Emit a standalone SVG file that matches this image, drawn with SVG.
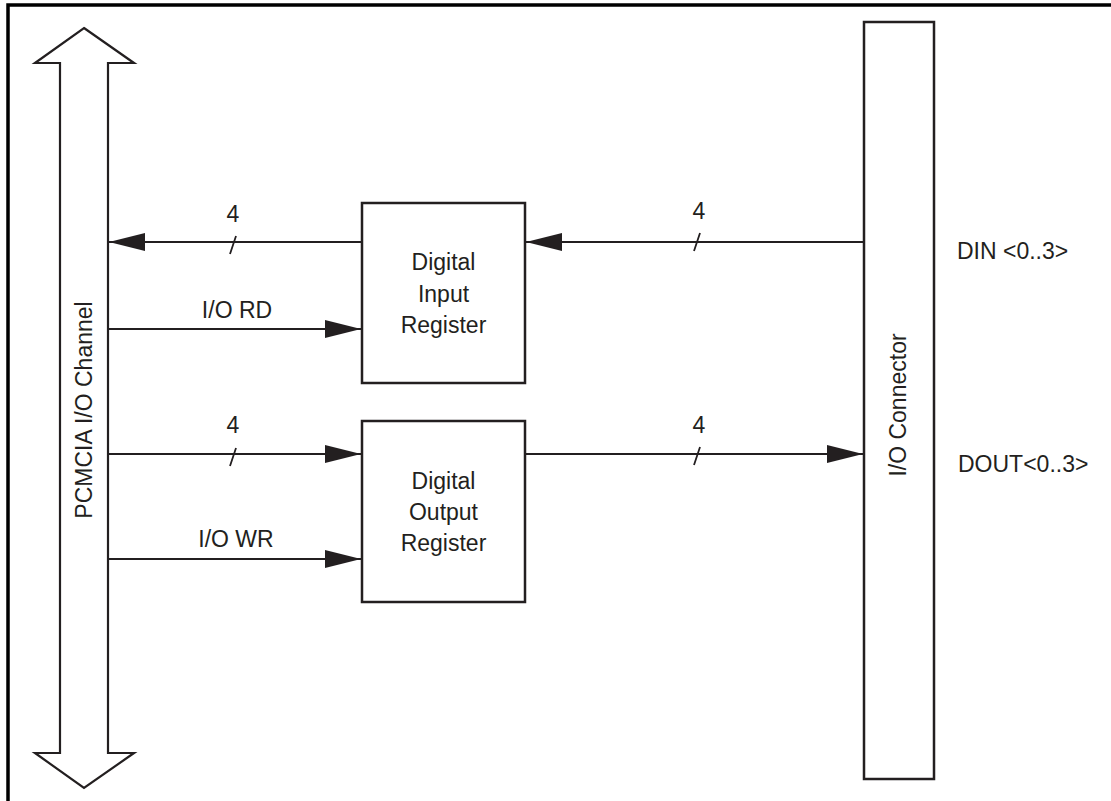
<svg xmlns="http://www.w3.org/2000/svg" width="1111" height="801" viewBox="0 0 1111 801">
<style>
text{font-family:"Liberation Sans",Arial,sans-serif;font-size:23px;fill:#231f20}
.box{fill:#fff;stroke:#231f20;stroke-width:2.5}
.ln{fill:none;stroke:#231f20;stroke-width:2.2}
.tick{fill:none;stroke:#231f20;stroke-width:1.8}
</style>
<defs>
<marker id="ah" markerUnits="userSpaceOnUse" markerWidth="38" markerHeight="20" refX="36" refY="9" orient="auto">
<path d="M0,0 L36,9 L0,18 Z" fill="#231f20"/>
</marker>
</defs>
<rect width="1111" height="801" fill="#fff"/>
<path d="M8,801 V5 H1111" fill="none" stroke="#000" stroke-width="3.5"/>
<g id="bus">
<polygon points="84,28 134,63 108,63 108,753 134,753 84,788 35,753 60,753 60,63 35,63" fill="#fff" stroke="#231f20" stroke-width="2.2"/>
<text transform="translate(92,410) rotate(-90)" text-anchor="middle">PCMCIA I/O Channel</text>
</g>
<g id="connector">
<rect class="box" x="864" y="22" width="70" height="757"/>
<text transform="translate(906,405) rotate(-90)" text-anchor="middle">I/O Connector</text>
<text x="957" y="259">DIN &lt;0..3&gt;</text>
<text x="958" y="472">DOUT&lt;0..3&gt;</text>
</g>
<g id="input-register">
<rect class="box" x="362" y="203" width="163" height="180"/>
<text x="443.5" y="270" text-anchor="middle">Digital</text>
<text x="443.5" y="302" text-anchor="middle">Input</text>
<text x="443.5" y="333" text-anchor="middle">Register</text>
</g>
<g id="output-register">
<rect class="box" x="362" y="421" width="163" height="181"/>
<text x="443.5" y="489" text-anchor="middle">Digital</text>
<text x="443.5" y="520" text-anchor="middle">Output</text>
<text x="443.5" y="551" text-anchor="middle">Register</text>
</g>
<g id="connectors">
<line class="ln" x1="362" y1="242" x2="109" y2="242" marker-end="url(#ah)"/>
<line class="ln" x1="864" y1="242" x2="526" y2="242" marker-end="url(#ah)"/>
<line class="ln" x1="108" y1="329" x2="361" y2="329" marker-end="url(#ah)"/>
<line class="ln" x1="108" y1="454" x2="361" y2="454" marker-end="url(#ah)"/>
<line class="ln" x1="525" y1="454" x2="863" y2="454" marker-end="url(#ah)"/>
<line class="ln" x1="108" y1="559" x2="361" y2="559" marker-end="url(#ah)"/>
<line class="tick" x1="236" y1="236" x2="230" y2="254"/>
<line class="tick" x1="700" y1="233" x2="694" y2="251"/>
<line class="tick" x1="236" y1="448" x2="230" y2="466"/>
<line class="tick" x1="700" y1="447" x2="694" y2="465"/>
<text x="233" y="222" text-anchor="middle">4</text>
<text x="699" y="219" text-anchor="middle">4</text>
<text x="233" y="433" text-anchor="middle">4</text>
<text x="699" y="433" text-anchor="middle">4</text>
<text x="237" y="318" text-anchor="middle">I/O RD</text>
<text x="236" y="547" text-anchor="middle">I/O WR</text>
</g>
</svg>
